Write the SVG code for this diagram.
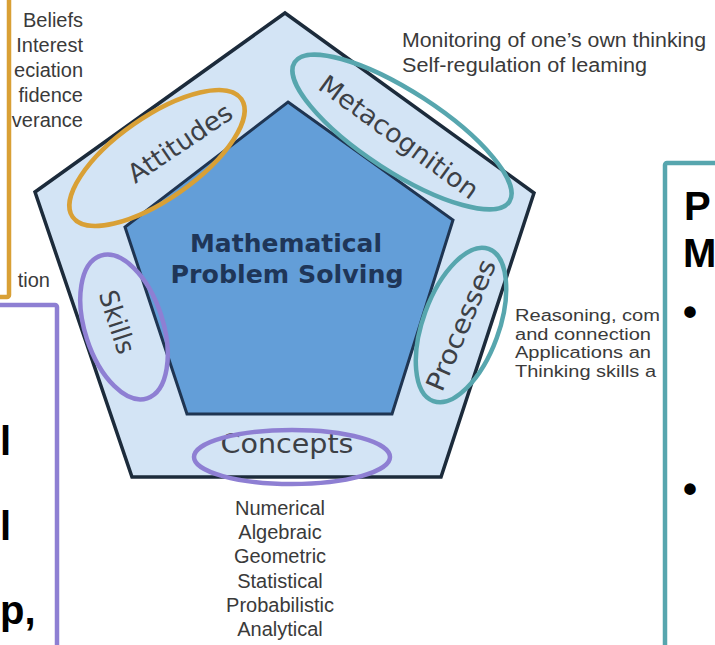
<svg xmlns="http://www.w3.org/2000/svg" width="715" height="645" viewBox="0 0 715 645">
<style>
.side{font-family:"Liberation Sans",Arial,sans-serif;font-size:20px;fill:#3a3a3a}
.proc{font-family:"Liberation Sans",Arial,sans-serif;font-size:16px;fill:#3a3a3a}
.lbl{font-family:"DejaVu Sans","Liberation Sans",sans-serif;font-size:26px;fill:#3c4046}
.core{font-family:"DejaVu Sans","Liberation Sans",sans-serif;font-size:25px;font-weight:bold;fill:#1f3658}
.big{font-family:"Liberation Sans",Arial,sans-serif;font-size:40px;font-weight:bold;fill:#000}
.ring{fill:none;stroke-width:4.5}
.box{fill:#fff;stroke-width:4.5}
</style>
<rect width="715" height="645" fill="#fff"/>

<g id="pentagon">
  <polygon id="outer" points="285,13 534,193 441,477 132,477 35,192" fill="#d3e4f5" stroke="#1c2b3b" stroke-width="3.5" stroke-linejoin="miter"/>
  <polygon id="inner" points="288,102 453,220 392,414 187,414 125,227" fill="#639ed8" stroke="#1f3552" stroke-width="3"/>
</g>

<g id="node-core">
  <text class="core" x="286" y="252" text-anchor="middle" textLength="192" lengthAdjust="spacingAndGlyphs">Mathematical</text>
  <text class="core" x="287" y="283" text-anchor="middle" textLength="233" lengthAdjust="spacingAndGlyphs">Problem Solving</text>
</g>

<g id="node-attitudes">
  <text class="lbl" transform="translate(180,143) rotate(-34)" x="0" y="9" text-anchor="middle" textLength="120" lengthAdjust="spacingAndGlyphs">Attitudes</text>
  <ellipse class="ring" stroke="#d9a035" cx="157" cy="158" rx="103" ry="41" transform="rotate(-35 157 158)"/>
</g>

<g id="node-metacognition">
  <text class="lbl" transform="translate(399,137) rotate(36)" x="0" y="9" text-anchor="middle" textLength="190" lengthAdjust="spacingAndGlyphs">Metacognition</text>
  <ellipse class="ring" stroke="#57a6ae" cx="402" cy="132" rx="128" ry="40" transform="rotate(33 402 132)"/>
</g>

<g id="node-processes">
  <text class="lbl" transform="translate(461,325) rotate(-67)" x="0" y="9" text-anchor="middle" textLength="140" lengthAdjust="spacingAndGlyphs">Processes</text>
  <ellipse class="ring" stroke="#57a6ae" cx="461" cy="325" rx="81" ry="38" transform="rotate(-70 461 325)"/>
</g>

<g id="node-concepts">
  <text class="lbl" x="287" y="453" text-anchor="middle" font-size="28" textLength="133" lengthAdjust="spacingAndGlyphs">Concepts</text>
  <ellipse class="ring" stroke="#8e7fd3" cx="292" cy="457" rx="98" ry="27"/>
</g>

<g id="node-skills">
  <text class="lbl" transform="translate(117,322) rotate(72)" x="0" y="9" text-anchor="middle" textLength="65" lengthAdjust="spacingAndGlyphs">Skills</text>
  <ellipse class="ring" stroke="#8e7fd3" cx="124" cy="327" rx="75" ry="39" transform="rotate(72 124 327)"/>
</g>

<g id="note-metacognition">
  <text class="side" x="402" y="47" textLength="304" lengthAdjust="spacingAndGlyphs">Monitoring of one’s own thinking</text>
  <text class="side" x="402" y="72" textLength="245" lengthAdjust="spacingAndGlyphs">Self-regulation of leaming</text>
</g>

<g id="note-processes">
  <text class="proc" x="515" y="321" textLength="145" lengthAdjust="spacingAndGlyphs">Reasoning, com</text>
  <text class="proc" x="515" y="339.5" textLength="136" lengthAdjust="spacingAndGlyphs">and connection</text>
  <text class="proc" x="515" y="358" textLength="136" lengthAdjust="spacingAndGlyphs">Applications an</text>
  <text class="proc" x="515" y="376.5" textLength="141" lengthAdjust="spacingAndGlyphs">Thinking skills a</text>
</g>

<g id="note-concepts" text-anchor="middle">
  <text class="side" x="280" y="515">Numerical</text>
  <text class="side" x="280" y="539">Algebraic</text>
  <text class="side" x="280" y="563">Geometric</text>
  <text class="side" x="280" y="588">Statistical</text>
  <text class="side" x="280" y="612">Probabilistic</text>
  <text class="side" x="280" y="636">Analytical</text>
</g>

<g id="note-attitudes" text-anchor="end">
  <text class="side" x="83" y="27">Beliefs</text>
  <text class="side" x="83" y="52">Interest</text>
  <text class="side" x="83" y="77">eciation</text>
  <text class="side" x="83" y="102">fidence</text>
  <text class="side" x="83" y="127">verance</text>
</g>

<g id="note-skills">
  <text class="side" x="50" y="287" text-anchor="end">tion</text>
</g>

<g id="box-attitudes">
  <rect class="box" stroke="#d9a035" x="-20" y="-20" width="29" height="317" rx="2"/>
</g>

<g id="box-skills">
  <rect class="box" stroke="#8e7fd3" x="-20" y="305" width="77" height="360" rx="2"/>
  <text class="big" x="0" y="455" font-size="34">l</text>
  <text class="big" x="0" y="540">l</text>
  <text class="big" x="0" y="624">p,</text>
</g>

<g id="box-processes">
  <rect class="box" stroke="#57a6ae" x="665" y="163" width="80" height="500" rx="2"/>
  <text class="big" x="684" y="220" font-size="42">P</text>
  <text class="big" x="683" y="267" font-size="42">M</text>
  <text class="big" x="683" y="326">•</text>
  <text class="big" x="683" y="503">•</text>
</g>

<g id="connectors"/>
</svg>
